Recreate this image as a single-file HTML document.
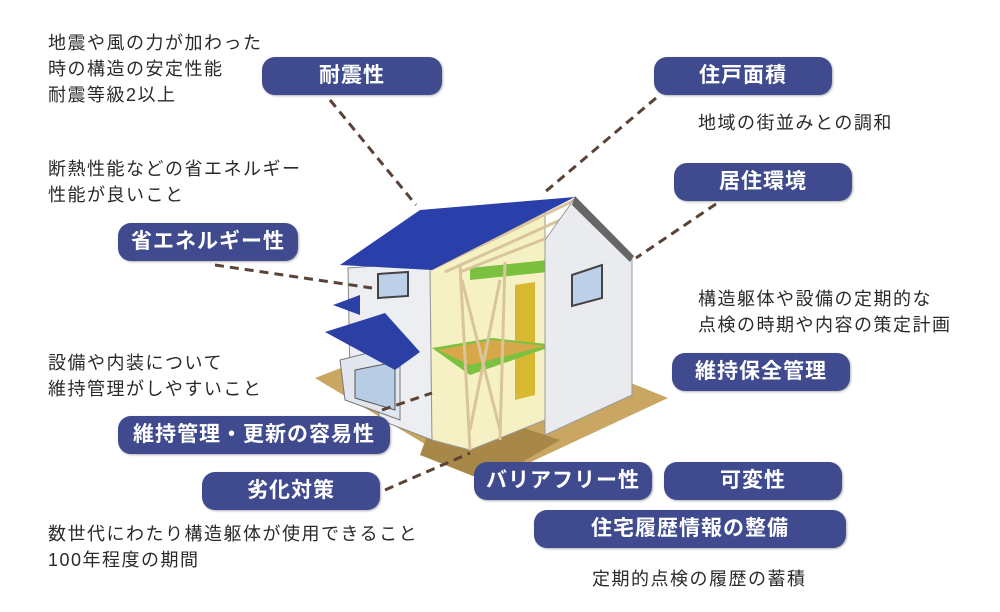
<!DOCTYPE html>
<html><head><meta charset="utf-8"><style>
body{margin:0;width:1000px;height:612px;background:#fff;position:relative;overflow:hidden;font-family:"Liberation Sans","Noto Sans CJK JP",sans-serif}
.p{position:absolute;height:38px;border-radius:13px;background:#3f4b8e;color:#fff;font-weight:bold;font-size:21px;letter-spacing:1px;line-height:38px;text-align:center;box-shadow:1px 1px 2px rgba(0,0,0,.3)}
.t{position:absolute;font-size:18px;letter-spacing:1.5px;color:#2a2a2a;line-height:26px;white-space:nowrap}
svg{position:absolute;left:0;top:0}
</style></head><body>
<svg width="1000" height="612">
<polygon points="315,378 470,318 668,398 488,482" fill="#c9a661"/>
<polygon points="440,400 560,440 488,482 420,455" fill="#a88848"/>
<polygon points="348,268 430,262 432,440 380,420 375,395 350,380" fill="#eceef1" stroke="#888" stroke-width="1"/>
<polygon points="340,360 400,345 400,420 345,400" fill="#e2e6ee" stroke="#777"/>
<polygon points="355,370 395,362 395,410 355,398" fill="#b8cce4" stroke="#555"/>
<polygon points="378,274 408,272 408,296 378,298" fill="#bcd0ea" stroke="#444" stroke-width="2"/>
<polygon points="325,332 385,313 420,352 395,370" fill="#2c3fa5"/>
<polygon points="333,305 360,295 360,315" fill="#2c3fa5"/>
<polygon points="430,265 545,205 545,420 470,450 432,440" fill="#f6f1c4" stroke="#999"/>
<polygon points="515,285 535,282 535,395 515,400" fill="#d8b830"/>
<polygon points="432,348 492,338 556,345 470,375" fill="#7cc040"/>
<polygon points="438,350 492,340 545,346 470,365" fill="#d7a84a"/>
<polygon points="470,268 548,260 548,272 470,280" fill="#7cc040"/>
<g stroke="#d8c59a" stroke-width="3"><line x1="460" y1="265" x2="470" y2="450"/><line x1="505" y1="262" x2="500" y2="440"/><line x1="462" y1="280" x2="500" y2="430"/><line x1="500" y1="280" x2="470" y2="430"/>
<line x1="430" y1="270" x2="575" y2="200"/><line x1="445" y1="272" x2="578" y2="212"/><line x1="460" y1="272" x2="580" y2="225"/></g>
<polygon points="340,265 420,210 575,197 432,270" fill="#2b3fab"/>
<polygon points="575,198 632,258 632,395 545,435 545,240" fill="#e9ebee" stroke="#999"/>
<polygon points="575,196 634,256 630,262 572,205" fill="#666"/>
<polygon points="572,275 602,265 602,298 572,306" fill="#bcd0ea" stroke="#444" stroke-width="2"/>
<g stroke="#5a4236" stroke-width="3" stroke-dasharray="9,6" fill="none">
<line x1="330" y1="100" x2="416" y2="205"/>
<line x1="656" y1="98" x2="545" y2="192"/>
<line x1="716" y1="204" x2="636" y2="258"/>
<line x1="215" y1="265" x2="372" y2="288"/>
<line x1="382" y1="410" x2="432" y2="393"/>
<line x1="385" y1="490" x2="470" y2="453"/>
</g>
</svg>
<div class="p" style="left:262px;top:57px;width:180px">耐震性</div>
<div class="p" style="left:654px;top:57px;width:178px">住戸面積</div>
<div class="p" style="left:674px;top:163px;width:178px">居住環境</div>
<div class="p" style="left:118px;top:223px;width:180px">省エネルギー性</div>
<div class="p" style="left:672px;top:353px;width:178px">維持保全管理</div>
<div class="p" style="left:118px;top:416px;width:272px">維持管理・更新の容易性</div>
<div class="p" style="left:202px;top:472px;width:178px">劣化対策</div>
<div class="p" style="left:474px;top:462px;width:178px">バリアフリー性</div>
<div class="p" style="left:664px;top:462px;width:178px">可変性</div>
<div class="p" style="left:534px;top:510px;width:312px">住宅履歴情報の整備</div>
<div class="t" style="left:48px;top:30px">地震や風の力が加わった<br>時の構造の安定性能<br>耐震等級2以上</div>
<div class="t" style="left:698px;top:110px">地域の街並みとの調和</div>
<div class="t" style="left:48px;top:156px">断熱性能などの省エネルギー<br>性能が良いこと</div>
<div class="t" style="left:698px;top:286px">構造躯体や設備の定期的な<br>点検の時期や内容の策定計画</div>
<div class="t" style="left:48px;top:350px">設備や内装について<br>維持管理がしやすいこと</div>
<div class="t" style="left:48px;top:521px">数世代にわたり構造躯体が使用できること<br>100年程度の期間</div>
<div class="t" style="left:592px;top:566px">定期的点検の履歴の蓄積</div>
</body></html>
